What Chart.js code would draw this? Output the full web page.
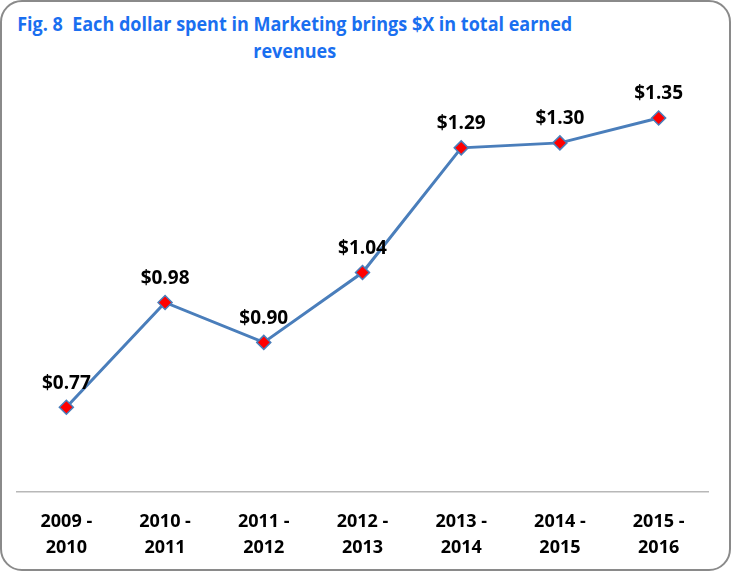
<!DOCTYPE html>
<html>
<head>
<meta charset="utf-8">
<script src="https://cdn.jsdelivr.net/npm/chart.js@4/dist/chart.umd.min.js"></script>
<style>
  html, body { margin: 0; padding: 0; background: #fff; }
  #box {
    position: absolute; left: 0; top: 0;
    width: 727px; height: 567px;
    border: 2px solid #8a8a8a; border-radius: 22px;
    overflow: hidden; background: #fff;
  }
  #title {
    position: absolute; left: 2px; top: 8px; width: 646px;
    white-space: nowrap;
    text-align: center;
    transform: scaleX(0.9); transform-origin: left top;
    font-family: "Open Sans", sans-serif;
    font-weight: bold; font-size: 20px; line-height: 27px;
    color: #1a6ff0;
  }
  canvas { position: absolute; left: -2px; top: -2px; }
</style>
</head>
<body>
<div id="box">
  <div id="title">Fig. 8&nbsp; Each dollar spent in Marketing brings $X in total earned<br>revenues</div>
  <canvas id="chart" width="731" height="571"></canvas>
</div>
<script>
const years = [
  ["2009 -", "2010"],
  ["2010 -", "2011"],
  ["2011 -", "2012"],
  ["2012 -", "2013"],
  ["2013 -", "2014"],
  ["2014 -", "2015"],
  ["2015 -", "2016"]
];
const earned = [0.77, 0.98, 0.90, 1.04, 1.29, 1.30, 1.35];

const FONT = '"Open Sans", sans-serif';

// draw the "$x.xx" labels above each point
const valueLabels = {
  id: "valueLabels",
  afterDatasetsDraw(chart) {
    const ctx = chart.ctx;
    const meta = chart.getDatasetMeta(0);
    ctx.save();
    ctx.font = "bold 19px " + FONT;
    ctx.fillStyle = "#000";
    ctx.textAlign = "center";
    ctx.textBaseline = "middle";
    meta.data.forEach((pt, i) => {
      ctx.fillText("$" + earned[i].toFixed(2), pt.x, pt.y - 24);
    });
    ctx.restore();
  }
};

new Chart(document.getElementById("chart"), {
  type: "line",
  data: {
    labels: years,
    datasets: [{
      data: earned,
      borderColor: "#4a7ebb",
      borderWidth: 3,
      tension: 0,
      pointStyle: "rectRot",
      pointRadius: 7,
      pointBackgroundColor: "#ff0000",
      pointBorderColor: "#4a7ebb",
      pointBorderWidth: 1.5
    }]
  },
  options: {
    responsive: false,
    animation: false,
    layout: { padding: { left: 17, right: 23, top: 93, bottom: 0 } },
    plugins: {
      legend: { display: false },
      tooltip: { enabled: false }
    },
    scales: {
      x: {
        offset: true,
        afterFit(scale) { scale.height = 79; },
        grid: { display: false, drawTicks: false },
        border: { color: "#b8b8b8", width: 1.5 },
        ticks: {
          color: "#000",
          padding: 17,
          maxRotation: 0,
          font: { family: FONT, size: 18, weight: "bold", lineHeight: 1.45 }
        }
      },
      y: {
        display: false,
        min: 0.6,
        max: 1.4
      }
    }
  },
  plugins: [valueLabels]
});
</script>
</body>
</html>
